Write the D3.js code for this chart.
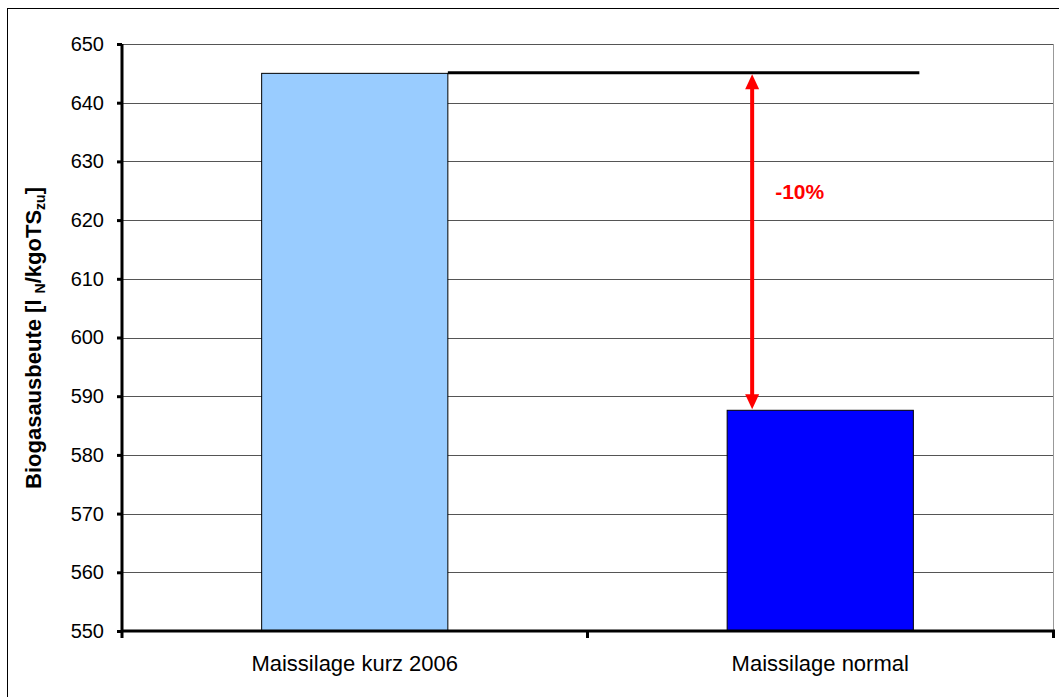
<html>
<head>
<meta charset="UTF-8">
<script src="https://d3js.org/d3.v7.min.js"></script>
<style>
  body { margin: 0; background: #fff; font-family: "Liberation Sans", Arial, sans-serif; }
</style>
</head>
<body>
<div id="chart"></div>
<script>
// data
var categories = ["Maissilage kurz 2006", "Maissilage normal"];
var values = [645, 587.6];
var barColors = ["#99ccff", "#0000ff"];
var yTicks = [550, 560, 570, 580, 590, 600, 610, 620, 630, 640, 650];
var diffLabel = "-10%";

var W = 1059, H = 697;
var m = { left: 122, top: 44, right: 1053, bottom: 631 };

var svg = d3.select("#chart").append("svg")
  .attr("width", W).attr("height", H);

// outer chart border
svg.append("rect")
  .attr("x", 7.5).attr("y", 8.5)
  .attr("width", W + 10).attr("height", H + 10)
  .attr("fill", "#fff").attr("stroke", "#000");

var x = d3.scaleBand().domain(categories).range([m.left, m.right]).paddingInner(0.6).paddingOuter(0.3);
var y = d3.scaleLinear().domain([550, 650]).range([m.bottom, m.top]);

// gridlines
svg.append("g").selectAll("line")
  .data(yTicks.slice(1))
  .enter().append("line")
  .attr("x1", m.left).attr("x2", m.right)
  .attr("y1", function(d) { return Math.round(y(d)) + 0.5; })
  .attr("y2", function(d) { return Math.round(y(d)) + 0.5; })
  .attr("stroke", "#555").attr("stroke-width", 1);

// plot area right border
svg.append("line")
  .attr("x1", m.right + 0.5).attr("x2", m.right + 0.5)
  .attr("y1", m.top).attr("y2", m.bottom)
  .attr("stroke", "#999");

// bars
svg.append("g").selectAll("rect")
  .data(values)
  .enter().append("rect")
  .attr("x", function(d, i) { return x(categories[i]); })
  .attr("y", function(d) { return y(d); })
  .attr("width", x.bandwidth())
  .attr("height", function(d) { return y(550) - y(d); })
  .attr("fill", function(d, i) { return barColors[i]; })
  .attr("stroke", "#000").attr("stroke-width", 1);

// reference line at first bar's height
var x1End = x(categories[0]) + x.bandwidth();
var x2End = x(categories[1]) + x.bandwidth() + 6;
svg.append("line")
  .attr("x1", x1End).attr("x2", x2End)
  .attr("y1", y(values[0]) - 0.5).attr("y2", y(values[0]) - 0.5)
  .attr("stroke", "#000").attr("stroke-width", 3);

// double arrow
var ax = x(categories[1]) + 25;
var yTop = y(values[0]) + 1, yBot = y(values[1]) - 1;
svg.append("line")
  .attr("x1", ax).attr("x2", ax)
  .attr("y1", yTop + 12).attr("y2", yBot - 12)
  .attr("stroke", "#ff0000").attr("stroke-width", 4);
svg.append("path")
  .attr("d", "M" + ax + "," + yTop + "L" + (ax - 7) + "," + (yTop + 15) + "L" + (ax + 7) + "," + (yTop + 15) + "Z")
  .attr("fill", "#ff0000");
svg.append("path")
  .attr("d", "M" + ax + "," + yBot + "L" + (ax - 7) + "," + (yBot - 15) + "L" + (ax + 7) + "," + (yBot - 15) + "Z")
  .attr("fill", "#ff0000");

svg.append("text")
  .attr("x", ax + 23).attr("y", 199)
  .attr("fill", "#ff0000")
  .attr("font-size", 21).attr("font-weight", "bold")
  .text(diffLabel);

// y axis
var yAxis = svg.append("g")
  .attr("transform", "translate(" + m.left + ",0)")
  .call(d3.axisLeft(y).tickValues(yTicks).tickSize(5).tickPadding(13).tickFormat(d3.format("d")));
yAxis.select(".domain").attr("stroke", "#000").attr("stroke-width", 3).attr("d", "M0," + m.top + "V" + m.bottom);
yAxis.selectAll(".tick line").attr("stroke", "#000").attr("stroke-width", 3);
yAxis.selectAll("text").attr("font-size", 20).attr("font-family", "Liberation Sans, Arial, sans-serif").attr("fill", "#000");

// x axis
svg.append("line")
  .attr("x1", m.left).attr("x2", m.right + 2)
  .attr("y1", m.bottom).attr("y2", m.bottom)
  .attr("stroke", "#000").attr("stroke-width", 3);
var xTicks = [m.left, (m.left + m.right) / 2, m.right + 0.5];
svg.append("g").selectAll("line")
  .data(xTicks).enter().append("line")
  .attr("x1", function(d) { return d; }).attr("x2", function(d) { return d; })
  .attr("y1", m.bottom).attr("y2", m.bottom + 7)
  .attr("stroke", "#000").attr("stroke-width", 3);

svg.append("g").selectAll("text")
  .data(categories).enter().append("text")
  .attr("x", function(d) { return x(d) + x.bandwidth() / 2; })
  .attr("y", 671)
  .attr("text-anchor", "middle")
  .attr("font-size", 22)
  .text(function(d) { return d; });

// y label
var yl = svg.append("text")
  .attr("transform", "translate(41,338) rotate(-90)")
  .attr("text-anchor", "middle")
  .attr("font-size", 22).attr("font-weight", "bold");
yl.append("tspan").text("Biogasausbeute [l ");
yl.append("tspan").attr("font-size", 14).attr("dy", 4).text("N");
yl.append("tspan").attr("dy", -4).text("/kgoTS");
yl.append("tspan").attr("font-size", 14).attr("dy", 4).text("zu");
yl.append("tspan").attr("dy", -4).text("]");
</script>
</body>
</html>
